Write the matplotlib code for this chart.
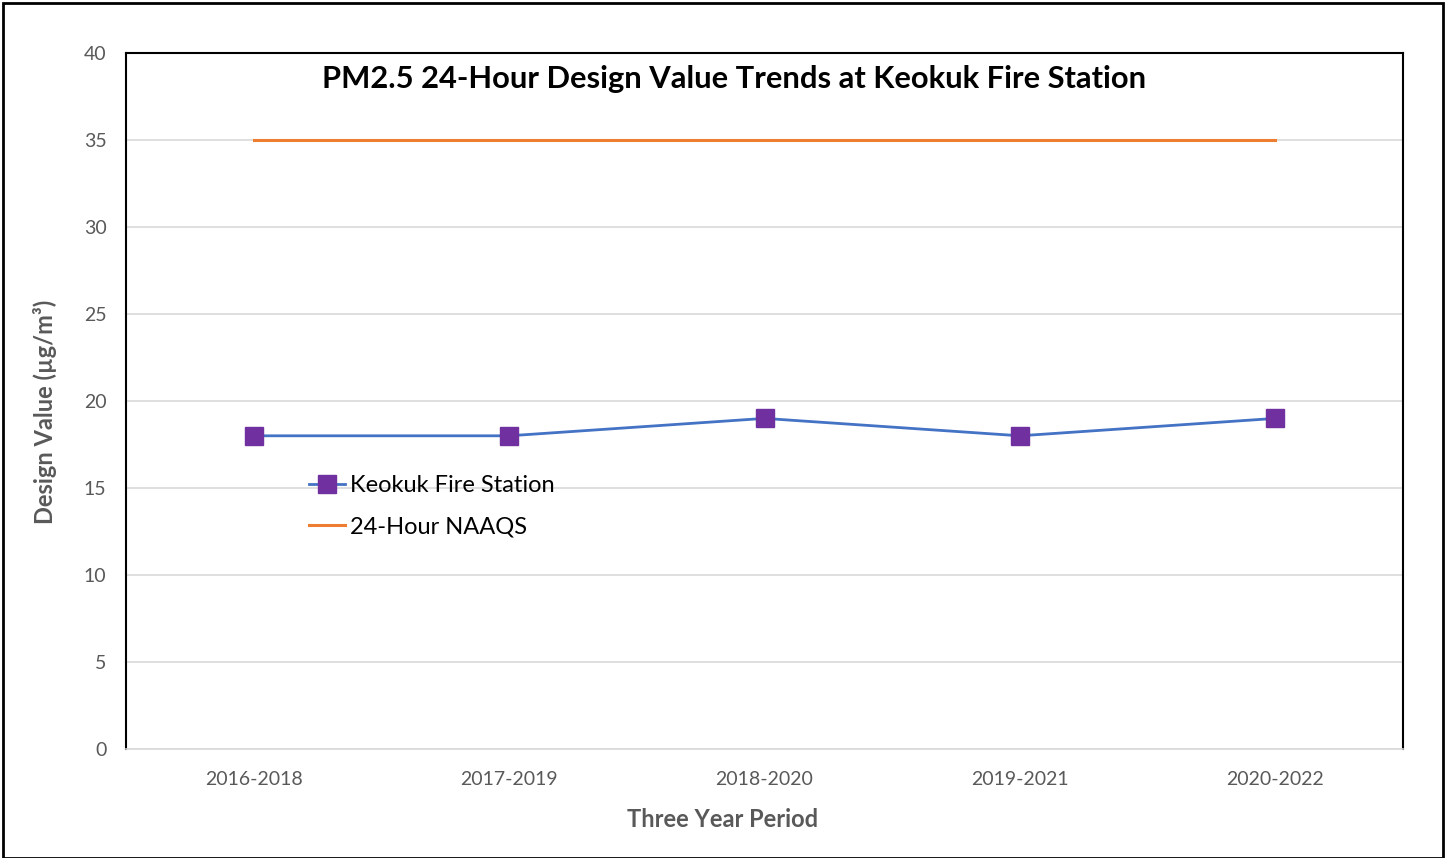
import matplotlib
matplotlib.use("Agg")
import matplotlib.pyplot as plt
from matplotlib.patches import Rectangle

periods = ["2016-2018", "2017-2019", "2018-2020", "2019-2021", "2020-2022"]
keokuk = [18, 18, 19, 18, 19]
naaqs = [35, 35, 35, 35, 35]
yticks = [0, 5, 10, 15, 20, 25, 30, 35, 40]

plt.rcParams['font.family'] = ['Lato', 'DejaVu Sans']

fig = plt.figure(figsize=(14.47, 8.58), dpi=100)
ax = fig.add_axes([126/1447, 1-749/858, (1403-126)/1447, (749-53)/858])

x = list(range(len(periods)))
ax.plot(x, keokuk, color="#4472C4", lw=2, marker="s", markersize=13,
        markerfacecolor="#7030A0", markeredgecolor="#7030A0", label="Keokuk Fire Station", zorder=3)
ax.plot(x, naaqs, color="#ED7D31", lw=2.2, label="24-Hour NAAQS", zorder=3)

ax.set_xlim(-0.5, len(periods) - 0.5)
ax.set_ylim(0, 40)
ax.set_yticks(yticks)
ax.set_xticks(x)
ax.set_xticklabels(periods)
ax.grid(axis="y", color="#D9D9D9", lw=1.2)
ax.set_axisbelow(True)
ax.tick_params(axis="x", length=0, labelsize=14, colors="#595959", pad=16)
ax.tick_params(axis="y", length=0, labelsize=14, colors="#595959", pad=14)

for s in ["left", "top", "right"]:
    ax.spines[s].set_color("black")
    ax.spines[s].set_linewidth(1.5)
ax.spines["bottom"].set_color("#D9D9D9")
ax.spines["bottom"].set_linewidth(1.2)

ax.set_title("PM2.5 24-Hour Design Value Trends at Keokuk Fire Station",
             fontsize=22.2, fontweight="bold", color="black", y=0.938, x=0.476)
ax.set_xlabel("Three Year Period", fontsize=17, fontweight="bold", color="#595959")
ax.xaxis.set_label_coords((723-126)/1277, -0.085)
ax.set_ylabel("Design Value (µg/m³)", fontsize=17, fontweight="bold", color="#595959")
ax.yaxis.set_label_coords(-0.054, (749-412)/696)

leg = ax.legend(loc="upper left", bbox_to_anchor=(0.127, 0.424), frameon=False,
                fontsize=17, handlelength=1.5, handletextpad=0.2, labelspacing=0.85)

fig.add_artist(Rectangle((3/1447, 0), 1440/1447, 1 - 3/858, transform=fig.transFigure,
                         fill=False, edgecolor="black", lw=2))

fig.savefig("out.png", dpi=100)
